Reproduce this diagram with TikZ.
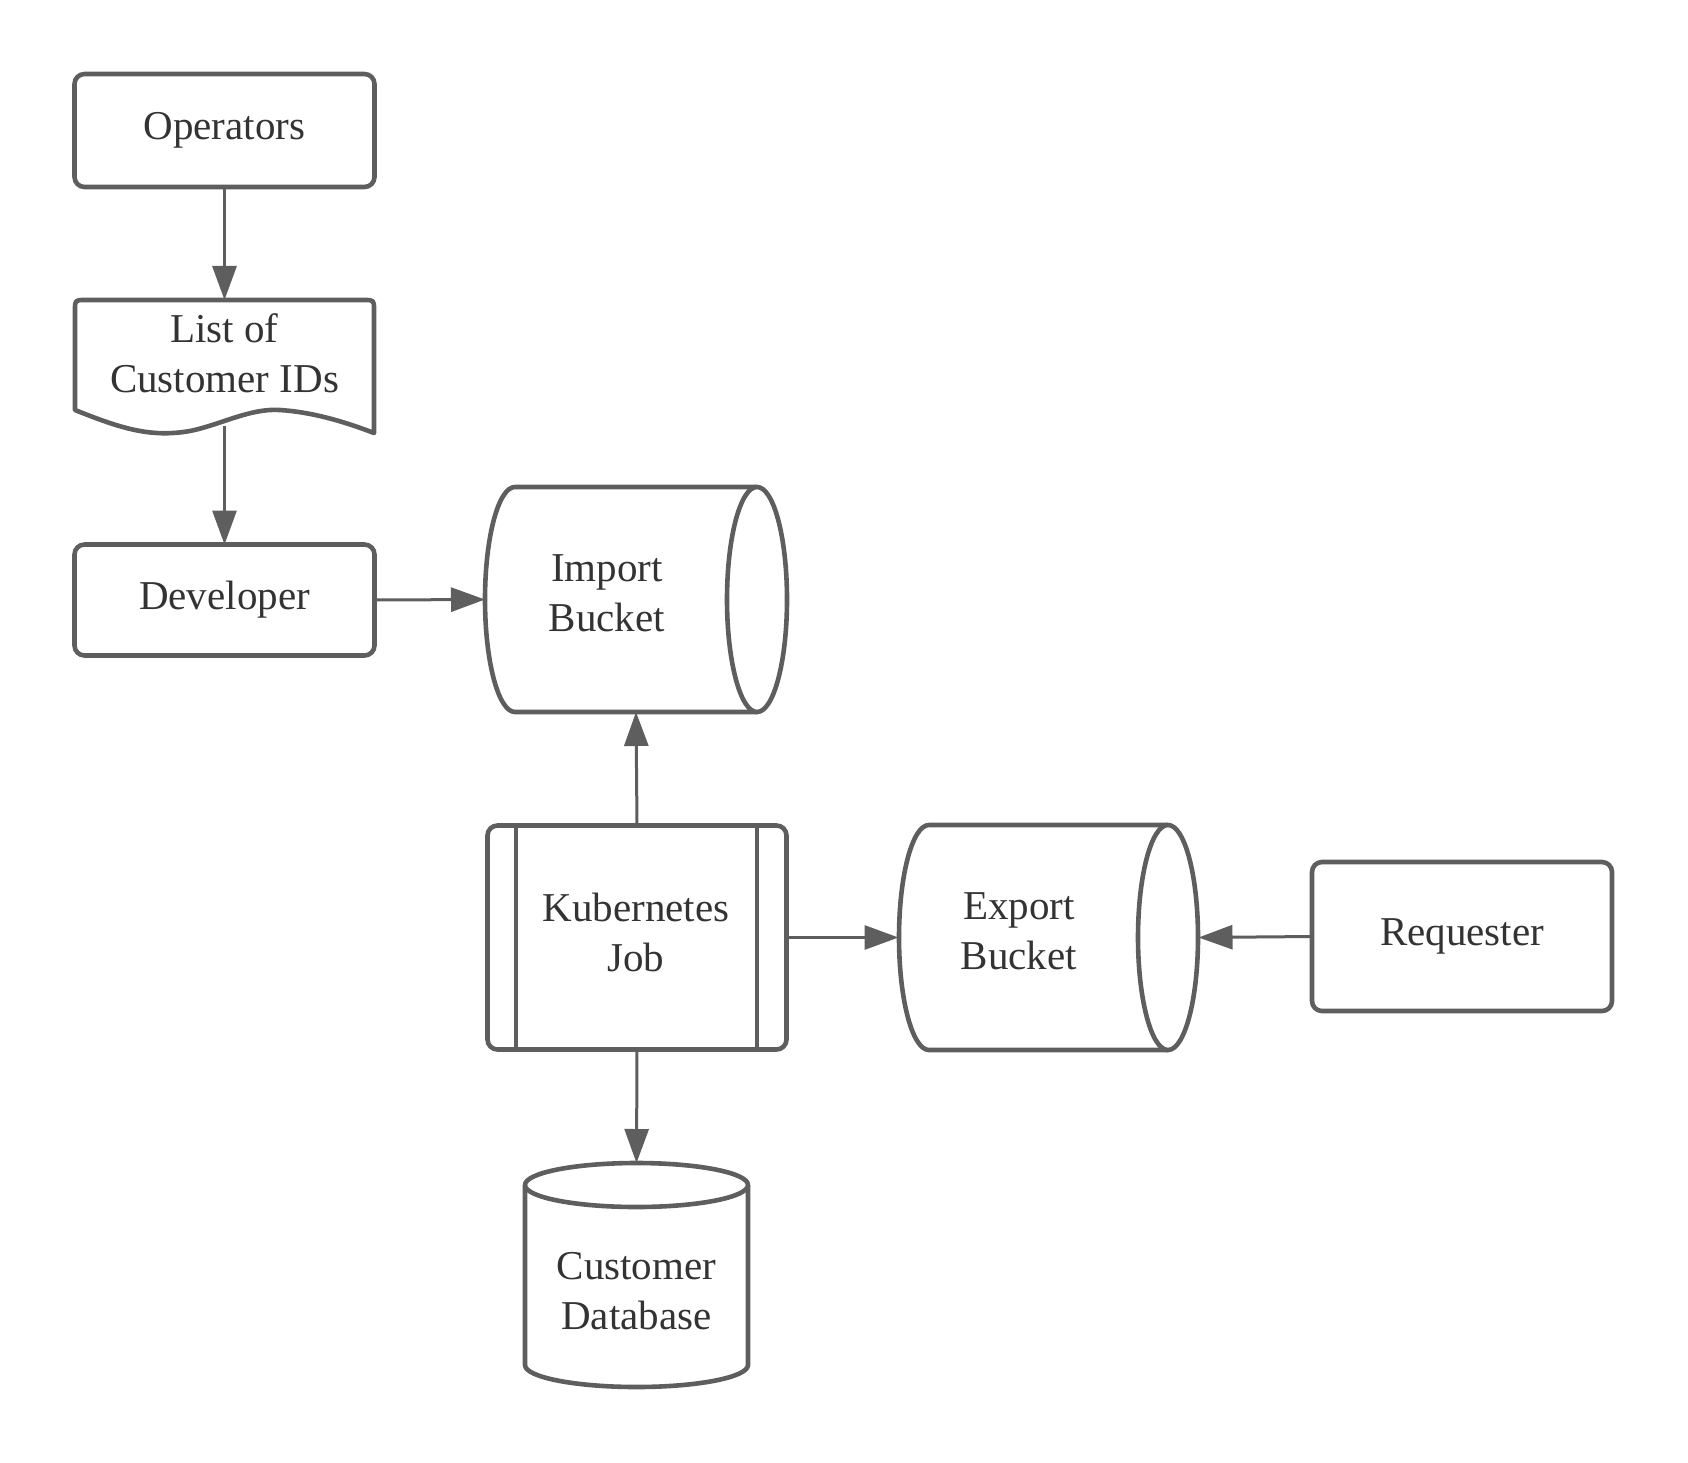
\documentclass[tikz,border=0pt]{standalone}
\usepackage{fontspec}
\setmainfont{Liberation Serif}
\usetikzlibrary{arrows.meta}
\definecolor{ln}{HTML}{5E5E5E}
\definecolor{tx}{HTML}{333333}
\begin{document}
\begin{tikzpicture}[x=1pt,y=-1pt,
  every node/.style={font=\fontsize{41}{50}\selectfont, text=tx, outer sep=0pt},
  shp/.style={draw=ln, line width=4.6pt, fill=white, line join=round},
  rbox/.style={shp, rounded corners=10pt, inner sep=0pt, align=center},
  area/.style={inner sep=0pt, minimum width=#1},
  lbl/.style={align=center, inner sep=0pt},
  conn/.style={draw=ln, line width=3pt, -{Triangle[length=34pt,width=24pt]}}
]
\fill[white] (0,0) rectangle (1688,1463);
\useasboundingbox (0,0) rectangle (1688,1463);

% Operators
\node[rbox, minimum width=300pt, minimum height=113pt] (ops) at (224.5,130.5) {};
\node[lbl] (opsT) at (224.5,130.5) {Operators};

% List of customer IDs (document shape)
\draw[shp] (75,410) -- (75,310) .. controls (75,300) .. (85,300) -- (364,300)
   .. controls (374,300) .. (374,310) -- (374,433)
   .. controls (340,420) and (310,412) .. (280,410)
   .. controls (250,408) and (220,425) .. (190,431)
   .. controls (150,438) and (120,428) .. (75,410) -- cycle;
\node[inner sep=0pt, minimum width=300pt, minimum height=124pt] (list) at (224.5,300+62) {};
\node[lbl] (listT) at (224.5,353) {List of\\Customer IDs};

% Developer
\node[rbox, minimum width=300pt, minimum height=111pt] (dev) at (224.5,600) {};
\node[lbl] (devT) at (224.5,599.5) {Developer};

% Import bucket
\draw[shp] (757,487) -- (515,487) arc (270:90:30 and 112.5) -- (757,712);
\draw[shp] (757,599.5) ellipse (30 and 112.5);
\node[area=302pt, minimum height=225pt] (imp) at (636,599.5) {};
\node[lbl] (impT) at (607,593) {Import\\Bucket};

% Kubernetes job
\node[rbox, minimum width=299pt, minimum height=224pt] (kube) at (637,937.5) {};
\draw[ln, line width=4.6pt] (516,826) -- (516,1049);
\draw[ln, line width=4.6pt] (757,826) -- (757,1049);
\node[lbl] (kubeT) at (636,932) {Kubernetes\\Job};

% Export bucket
\draw[shp] (1168,825) -- (929,825) arc (270:90:30 and 112.5) -- (1168,1050);
\draw[shp] (1168,937.5) ellipse (30 and 112.5);
\node[area=300pt, minimum height=225pt] (exp) at (1048.5,937.5) {};
\node[lbl] (expT) at (1019,931) {Export\\Bucket};

% Requester
\node[rbox, minimum width=300pt, minimum height=149pt] (req) at (1462,936.5) {};
\node[lbl] (reqT) at (1462,936) {Requester};

% Customer database
\draw[shp] (525,1185) -- (525,1365) arc (180:0:111.5 and 22) -- (748,1185);
\draw[shp] (636.5,1185) ellipse (111.5 and 22);
\node[area=225pt, minimum height=224pt] (db) at (636.5,1275) {};
\node[lbl] (dbT) at (636.5,1291) {Customer\\Database};

% connectors
\draw[conn] (ops.south) -- (list.north);
\draw[conn] ([yshift=-2pt]list.south) -- (dev.north);
\draw[conn] (dev.east) -- (imp.west);
\draw[conn] (kube.north) -- (imp.south);
\draw[conn] (kube.east) -- (exp.west);
\draw[conn] (req.west) -- (exp.east);
\draw[conn] (kube.south) -- (db.north);
\end{tikzpicture}
\end{document}
